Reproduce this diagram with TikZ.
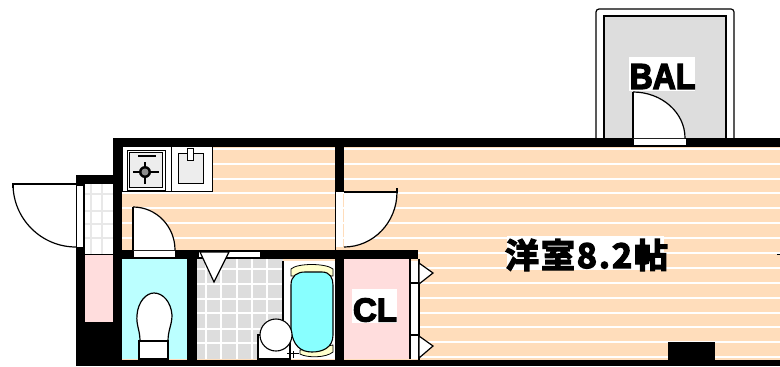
\documentclass[tikz,border=0pt]{standalone}
\usepackage{graphicx}
\usepackage{fontspec}
\setmainfont{Liberation Sans}[BoldFeatures={FakeBold=4}]
\newfontfamily\cjk{Noto Sans CJK JP}[BoldFont={Noto Sans CJK JP Bold},BoldFeatures={FakeBold=4}]
\definecolor{floorc}{HTML}{FFDDBB}
\definecolor{wcc}{HTML}{BBFFFF}
\definecolor{pinkc}{HTML}{FFDDDD}
\definecolor{tubc}{HTML}{88FFFF}
\definecolor{creamc}{HTML}{FFFFCC}
\definecolor{greyc}{HTML}{DDDDDD}
\definecolor{tilec}{HTML}{E8E8E8}
\tikzset{
  wall/.style={fill=black,draw=none},
  outl/.style={draw=black,line width=1.2pt},
  leaf/.style={draw=black,line width=1.2pt,fill=white},
  gridw/.style={draw=white,line width=1.3pt},
  labelb/.style={inner sep=0pt,font=\bfseries,text=black}
}
\begin{document}
\begin{tikzpicture}[x=1bp,y=-1bp]
\useasboundingbox (0,0) rectangle (780,366);
\fill[white] (0,0) rectangle (780,366);
% floors
\fill[floorc] (122,147) rectangle (780,360);
\foreach \yy in {149,164,179,193,208,223,238,253,268,283,298,313,327,342,357}
  \draw[white,line width=1.2pt] (122,\yy) -- (780,\yy);
% balcony
\draw[line width=1.2pt,fill=white,rounded corners=3pt] (596,138) -- (596,9) -- (734,9) -- (734,138);
\draw[line width=1.2pt,fill=greyc] (604,138) -- (604,16) -- (726,16) -- (726,138);
\fill[wall] (113,138) rectangle (780,147);
% balcony door
\fill[white] (633,138) -- (633,92) arc[start angle=-90,end angle=0,x radius=52,y radius=46] -- cycle;
\draw[outl] (633,138) -- (633,92);
\draw[outl] (633,92) arc[start angle=-90,end angle=0,x radius=52,y radius=46];
\fill[white] (634,139) rectangle (686,145);
% entrance
\fill[wall] (76,175) rectangle (122,366);
\fill[wall] (113,138) rectangle (122,260);
\fill[white] (85,184) rectangle (113,254);
\foreach \xx in {91,102} \draw[tilec,line width=1.3pt] (\xx,184) -- (\xx,254);
\foreach \yy in {194,211,224,238} \draw[tilec,line width=1.3pt] (85,\yy) -- (113,\yy);
\fill[pinkc] (85,255) rectangle (113,322);
\fill[white] (77,186) rectangle (83,247);
\draw[outl] (13,188) -- (13,184) -- (76,184);
\draw[outl] (13,184) arc[start angle=180,end angle=90,radius=63];
% kitchen fixtures
\draw[line width=1pt,fill=white] (122,147) -- (122,191) -- (212,191) -- (212,147);
\draw[line width=.9pt,fill=white] (127,150) rectangle (165,190);
\draw[line width=.9pt,fill=black!7] (129.5,152.5) rectangle (162.5,187.5);
\fill[black] (138,154.5) rectangle (156,157);
\draw[line width=1.8pt] (145,162) -- (145,184);
\draw[line width=1.8pt] (133,172) -- (159,172);
\fill[black] (145,172) circle (6);
\fill[black!45] (145,172) circle (3.5);
\draw[line width=1pt] (171,147) -- (171,191);
\draw[line width=1pt,fill=black!7] (178,153) rectangle (203,183);
\draw[line width=.8pt,fill=white] (187,148) rectangle (193,160);
% door wall and door kitchen-room
\fill[wall] (335,147) rectangle (344,192);
\fill[white] (336,194) rectangle (343,247);
\draw[line width=.6pt] (335,192) -- (335,250);
\fill[white] (344,192) -- (397,192) arc[start angle=0,end angle=90,x radius=53,y radius=55] -- cycle;
\draw[outl] (344,192) -- (397,192) -- (397,188);
\draw[outl] (397,192) arc[start angle=0,end angle=90,x radius=53,y radius=55];
% horizontal wall
\fill[wall] (122,250) rectangle (418,259);
% toilet door
\fill[white] (133,250) -- (133,207) arc[start angle=-90,end angle=0,x radius=42,y radius=43] -- cycle;
\draw[outl] (133,250) -- (133,207);
\draw[outl] (133,207) arc[start angle=-90,end angle=0,x radius=42,y radius=43];
\fill[white] (134,251) rectangle (175,257);
% toilet
\fill[wcc] (122,259) rectangle (187,359);
\draw[leaf] (140,341) .. controls (140,330) and (136,325) .. (137,315)
  .. controls (138,302) and (146,293) .. (154,293)
  .. controls (163,293) and (171,302) .. (172,315)
  .. controls (172,325) and (168,330) .. (168,341) -- cycle;
\draw[leaf] (139,341) rectangle (168,359);
% walls of bath
\fill[wall] (187,259) rectangle (197,366);
\fill[wall] (335,250) rectangle (344,366);
\fill[wall] (76,360) rectangle (780,366);
\fill[wall] (668,342) rectangle (715,360);
\draw[line width=1pt] (777,254) -- (780,254);
% bath tiles
\fill[greyc] (197,259) rectangle (283,359);
\foreach \xx in {206,221,237,252,267} \draw[gridw] (\xx,259) -- (\xx,359);
\foreach \yy in {269,284,299,313,329,343} \draw[gridw] (197,\yy) -- (283,\yy);
% bath door strip
\fill[white] (199,252) rectangle (260,257);
\draw[leaf] (200,252) -- (229,252) -- (214,282) -- cycle;
% tub
\fill[white] (283,261) rectangle (335,359);
\draw[line width=1.1pt] (283,261) -- (283,322);
\draw[line width=.8pt,fill=creamc] (291,276) -- (291,269) .. controls (297,263) and (326,263) .. (333,269) -- (333,276) -- cycle;
\draw[line width=.8pt,fill=creamc] (300,350) -- (333,345) -- (333,352) .. controls (326,358) and (307,358) .. (300,354) -- cycle;
\draw[line width=1.1pt,fill=tubc] (291,285) .. controls (291,276) and (297,272) .. (305,272)
  -- (322,272) .. controls (330,272) and (333,278) .. (333,285)
  -- (333,335) .. controls (333,348) and (322,352) .. (312,352)
  .. controls (300,352) and (293,345) .. (291,330) -- cycle;
% wash basin
\draw[line width=1.1pt,fill=white] (258,359) -- (258,335) -- (290,335) -- (290,359) -- cycle;
\draw[line width=1.1pt,fill=white] (276,335) circle (16);
\draw[line width=1pt] (287,353) -- (299,353) (293,351) -- (293,358);
% closet
\fill[pinkc] (344,259) rectangle (410,359);
\fill[white] (410,261) rectangle (418,359);
\draw[line width=1.1pt] (410,259) -- (410,359);
\draw[line width=1.1pt] (410,283) -- (418,283) (410,335) -- (418,335);
\fill[wall] (418,259) rectangle (419.5,360);
\draw[leaf] (419,263) -- (433,273) -- (419,284) -- cycle;
\draw[leaf] (419,336) -- (433,346) -- (419,358) -- cycle;
% label backings
\fill[white] (352,289) rectangle (397,323);
\fill[white] (629,57) rectangle (695,91);
\fill[white] (507,236) rectangle (664,270);
% labels
\node[labelb] (cl) at (375,310) {\fontsize{33bp}{33bp}\selectfont CL};
\node[labelb] (bal) at (662.5,76.5) {\scalebox{1}[1.12]{\fontsize{32bp}{32bp}\selectfont BAL}};
\node[labelb] (room) at (586.5,255) {\cjk\fontsize{34bp}{34bp}\selectfont\bfseries 洋\hspace{2bp}室\hspace{2bp}8\hspace{2bp}.\hspace{2bp}2\hspace{2bp}帖};
\end{tikzpicture}
\end{document}
